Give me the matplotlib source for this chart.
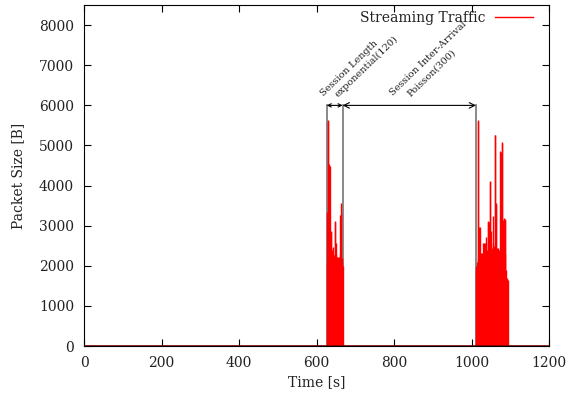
import numpy as np
import matplotlib
matplotlib.use("Agg")
import matplotlib.pyplot as plt

plt.rcParams['font.family'] = ['DejaVu Serif']

# packet sizes per second during the two streaming sessions
t1_start = 626
s1 = [3350, 2100, 2000, 5600, 5630, 2200, 2400, 4540, 4500, 2100,
      2300, 2850, 2860, 2400, 2100, 2480, 2300, 2100, 2280, 2000,
      2200, 3100, 3110, 2300, 2580, 2200, 2000, 2230, 2100, 2230,
      2000, 2150, 2230, 2100, 3275, 2300, 2000, 3300, 3570, 2200,
      2100, 2000]
t2_start = 1011
s2 = [2000, 1900, 2100, 2000, 5600, 5630, 2200, 2980, 2950, 2200,
      2980, 2300, 2100, 2000, 2320, 2200, 2320, 2100, 2000, 2570,
      2300, 2570, 2200, 2400, 2560, 2200, 2570, 2730, 2300, 2400,
      2200, 3100, 3110, 2500, 3080, 2200, 4110, 4100, 2300, 2400,
      2860, 2300, 2450, 2560, 2300, 3230, 2500, 2200, 5270, 5250,
      2300, 3570, 3525, 2400, 2450, 2300, 2400, 2200, 2450, 2400,
      2300, 2200, 2400, 4860, 4850, 2300, 5075, 5060, 2200, 3150,
      2300, 3150, 3200, 2200, 3150, 3160, 2300, 1900, 1650, 1700,
      1650, 1600, 1650]

# session markers
marks = [626, 667, 1011]
arrow_y = 6000

t = np.concatenate([t1_start + np.arange(len(s1)), t2_start + np.arange(len(s2))])
size = np.concatenate([s1, s2])

fig = plt.figure(figsize=(5.68, 3.95), dpi=100)
ax = fig.add_axes([0.148, 0.124, 0.819, 0.863])

for m in marks:
    ax.plot([m, m], [0, arrow_y], color='#808080', lw=1.3, zorder=1)

ax.vlines(t, 0, size, color='red', lw=1.0, zorder=2)
ax.plot([], [], color='red', lw=1.0, label='Streaming Traffic')
ax.axhline(0, color='#7a0000', lw=1.2, zorder=3)

ax.annotate('', xy=(marks[0], arrow_y), xytext=(marks[1], arrow_y),
            arrowprops=dict(arrowstyle='<->', color='black', lw=0.8,
                            mutation_scale=6, shrinkA=0, shrinkB=0))
ax.annotate('', xy=(marks[1], arrow_y), xytext=(marks[2], arrow_y),
            arrowprops=dict(arrowstyle='<->', color='black', lw=0.8,
                            mutation_scale=10, shrinkA=0, shrinkB=0))

kw = dict(rotation=44, rotation_mode='anchor', ha='left', va='baseline',
          fontsize=7, color='#222222')
ax.text(617, 6225, 'Session Length', **kw)
ax.text(655, 6200, 'exponential(120)', **kw)
ax.text(797, 6225, 'Session Inter-Arrival', **kw)
ax.text(841, 6200, 'Poisson(300)', **kw)

ax.set_xlim(0, 1200)
ax.set_ylim(0, 8500)
ax.set_xticks(np.arange(0, 1201, 200))
ax.set_yticks(np.arange(0, 8001, 1000))
ax.tick_params(direction='in', top=True, right=True, length=5, labelsize=10,
               labelcolor='#222222')
ax.tick_params(axis='y', pad=7.2)
ax.tick_params(axis='x', pad=7)
ax.set_xlabel('Time [s]', fontsize=10, labelpad=4, color='#222222')
ax.set_ylabel('Packet Size [B]', fontsize=10, labelpad=10, color='#222222')
leg = ax.legend(loc='upper right', frameon=False, markerfirst=False, fontsize=10,
                handlelength=2.8, handletextpad=0.65, borderaxespad=0,
                bbox_to_anchor=(0.978, 1.0))
for txt in leg.get_texts():
    txt.set_color('#222222')

fig.savefig('out.png', dpi=100)
